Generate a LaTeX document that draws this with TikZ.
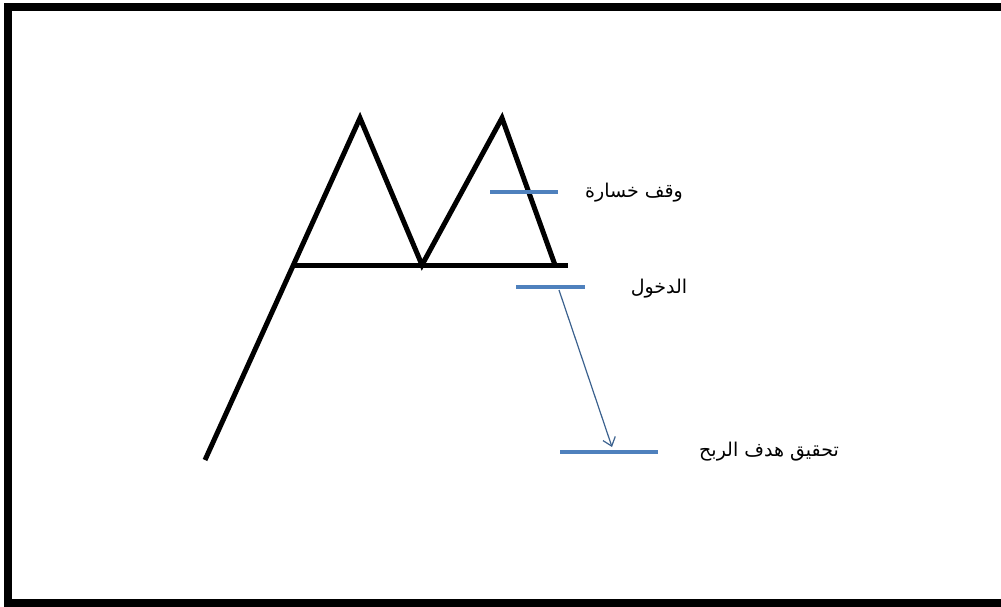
\documentclass[tikz,border=0pt]{standalone}
\usepackage{fontspec}
\usepackage{tikz}
\usetikzlibrary{positioning,arrows.meta}
\TeXXeTstate=1
\newfontfamily\arabicfont[Script=Arabic]{DejaVu Sans}
\definecolor{lvlblue}{HTML}{4F81BD}

\begin{document}
\begin{tikzpicture}[
    x=1pt, y=-1pt,
    leg/.style={line width=5pt, line join=miter, black},
    lvl/.style={line width=3.8pt, lvlblue},
    arr/.style={-{Straight Barb[length=8pt,width=13pt]}, line width=1.2pt, lvlblue!75!black},
    lbl/.style={font=\arabicfont\fontsize{19}{22}\selectfont, inner sep=0pt, anchor=center}
  ]
  \useasboundingbox (0,0) rectangle (1001,607);
  % frame (runs past the right edge)
  \draw[line width=8pt] (8,7) rectangle (1012,603);
  % double top: rise, two peaks, neckline
  \coordinate (start) at (205,460);
  \coordinate (neckL) at (293,265);
  \coordinate (peakA) at (360,118);
  \coordinate (valley) at (422,265);
  \coordinate (peakB) at (502,118);
  \coordinate (neckR) at (555,265);
  \coordinate (lineR) at (568,265);
  \draw[leg] (start) -- (peakA) -- (valley) -- (peakB) -- (neckR);
  \draw[leg] (neckL) -- (lineR);
  % levels
  \coordinate (stopL) at (490,192);  \coordinate (stopR) at (558,192);
  \coordinate (entL) at (516,287);   \coordinate (entR) at (585,287);
  \coordinate (tgtL) at (560,452);   \coordinate (tgtR) at (658,452);
  \draw[lvl] (stopL) -- (stopR);
  \draw[lvl] (entL) -- (entR);
  \draw[lvl] (tgtL) -- (tgtR);
  \draw[arr] (559,290) -- (612,447);
  % labels
  \node[lbl] (stop) at (634,193) {\beginR وقف خسارة\endR};
  \node[lbl] (entry) at (659,289) {\beginR الدخول\endR};
  \node[lbl] (target) at (769,452) {\beginR تحقيق هدف الربح\endR};
\end{tikzpicture}
\end{document}
